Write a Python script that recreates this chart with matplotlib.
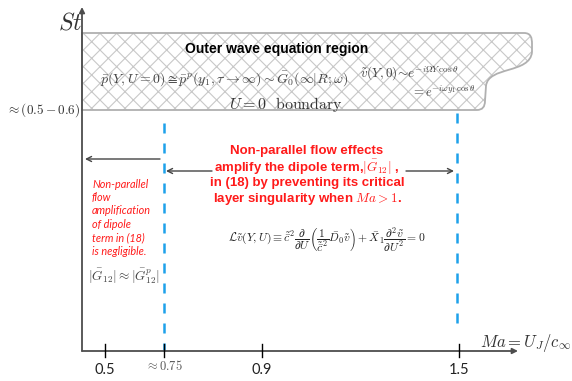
import numpy as np
import matplotlib
matplotlib.use("Agg")
import matplotlib.pyplot as plt
from matplotlib.path import Path
from matplotlib.patches import PathPatch, FancyArrowPatch

plt.rcParams['mathtext.fontset'] = 'cm'
plt.rcParams['hatch.linewidth'] = 0.8

# ---- data ----
ma_ticks = [0.5, 0.75, 0.9, 1.5]
ma_tick_labels = ["0.5", r"$\approx 0.75$", "0.9", "1.5"]
ma_critical = [0.75, 1.5]
st_boundary_label = r"$\approx(0.5-0.6)$"

# ---- layout (pixel coordinates) ----
W, H = 572, 381
tick_px = [105, 164, 262, 459]
x0, y_axis_bottom = 82, 351
def ma_px(m):
    return np.interp(m, ma_ticks, tick_px)

fig = plt.figure(figsize=(W/100, H/100), dpi=100)
ax = fig.add_axes([0, 0, 1, 1])
ax.set_xlim(0, W)
ax.set_ylim(H, 0)
ax.axis('off')

axis_col = '#4d4d4d'
blue = '#1da1ea'
red = '#ff1a1a'

# ---- hatched outer region ----
verts = [(x0, 110), (x0, 33), (524, 33),
         (531, 33), (532, 38), (532, 44),
         (532, 52),
         (530, 74), (488, 66), (486, 86),
         (485, 101),
         (485, 110), (477, 110),
         (x0, 110), (x0, 110)]
codes = [Path.MOVETO, Path.LINETO, Path.LINETO,
         Path.CURVE4, Path.CURVE4, Path.CURVE4,
         Path.LINETO,
         Path.CURVE4, Path.CURVE4, Path.CURVE4,
         Path.LINETO,
         Path.CURVE3, Path.CURVE3,
         Path.LINETO, Path.CLOSEPOLY]
path = Path(verts, codes)
ax.add_patch(PathPatch(path, facecolor='white', edgecolor='#c8c8c8', lw=0, hatch='xx', zorder=1))
ax.add_patch(PathPatch(path, facecolor='none', edgecolor='#b0b0b0', lw=1.3, zorder=2))

# ---- axes lines ----
ax.add_patch(FancyArrowPatch((x0, y_axis_bottom), (x0, 7), arrowstyle='-|>', mutation_scale=8,
                             color=axis_col, lw=1.3, shrinkA=0, shrinkB=0, zorder=3))
ax.add_patch(FancyArrowPatch((x0, y_axis_bottom), (518, y_axis_bottom), arrowstyle='-|>', mutation_scale=8,
                             color=axis_col, lw=1.3, shrinkA=0, shrinkB=0, zorder=3))

# ticks
for m, lab in zip(ma_ticks, ma_tick_labels):
    px = ma_px(m)
    ax.plot([px, px], [344, 357], color='black', lw=1.0, zorder=3)
    if lab.startswith('$'):
        ax.text(px, 366, lab, ha='center', va='center', fontsize=9, color='#555555')
    else:
        ax.text(px, 370, lab, ha='center', va='center', fontsize=10.5, fontfamily='Lato', color='#222222')

# critical lines
ax.plot([ma_px(ma_critical[0])]*2, [123, y_axis_bottom], color=blue, lw=1.8, dashes=(4, 4), zorder=2)
ax.plot([ma_px(ma_critical[1])-2]*2, [113, 332], color=blue, lw=1.8, dashes=(4, 4), zorder=2)

# axis labels
ax.text(70, 22, r"$St$", ha='center', va='center', fontsize=17, color='#333333')
ax.text(480, 343, r"$Ma = U_J/c_\infty$", ha='left', va='center', fontsize=12, color='#333333')
ax.text(80, 110, st_boundary_label, ha='right', va='center', fontsize=9.5, color='#333333')

# texts in hatched region
ax.text(277, 49, "Outer wave equation region", ha='center', va='center', fontsize=10,
        fontweight='bold', fontfamily='Liberation Sans', color='black', zorder=4)
ax.text(100, 79, r"$\bar{p}(Y,U=0)\cong\bar{p}^{p}(y_1,\tau\rightarrow\infty)\sim\bar{G}_0(\infty|R;\omega)$",
        ha='left', va='center', fontsize=10, color='#444444', zorder=4)
ax.text(360, 74, r"$\tilde{v}(Y,0)\!\sim\! e^{-i\Omega Y\,\cos\theta}$", ha='left', va='center',
        fontsize=9.5, color='#444444', zorder=4)
ax.text(411, 92, r"$=e^{-i\omega y_1\,\cos\theta}$", ha='left', va='center',
        fontsize=9, color='#444444', zorder=4)
ax.text(286, 105, r"$U=0\ \ \mathrm{boundary}$", ha='center', va='center', fontsize=11.5,
        color='#333333', zorder=4)

# arrows
arrow_kw = dict(arrowstyle='->', mutation_scale=9, color='#444444', lw=1.0, shrinkA=0, shrinkB=0)
ax.add_patch(FancyArrowPatch((160, 159), (85, 159), **arrow_kw))
ax.add_patch(FancyArrowPatch((212, 171), (166, 171), **arrow_kw))
ax.add_patch(FancyArrowPatch((406, 171), (454, 171), **arrow_kw))

# red central text
red_lines = ["Non-parallel flow effects",
             r"amplify the dipole term,$|\bar{G}_{12}|$ ,",
             "in (18) by preventing its critical",
             r"layer singularity when $Ma>1$."]
for i, t in enumerate(red_lines):
    ax.text(307, 151 + i*16, t, ha='center', va='center', fontsize=9.5, fontweight='bold',
            fontfamily='Liberation Sans', color=red)

# red italic side text
side_lines = ["Non-parallel", "flow", "amplification", "of dipole", "term in (18)", "is negligible."]
for i, t in enumerate(side_lines):
    ax.text(92, 184 + i*13.5, t, ha='left', va='center', fontsize=7.8, fontstyle='italic',
            fontfamily='Lato', color=red)

ax.text(124, 276, r"$|\bar{G}_{12}|\approx|\bar{G}^{p}_{12}|$", ha='center', va='center',
        fontsize=9.5, color='#444444')

# governing equation
ax.text(327, 240,
        r"$\mathcal{L}\tilde{v}(Y,U)\equiv\tilde{\bar{c}}^2\dfrac{\partial}{\partial U}\left(\dfrac{1}{\tilde{\bar{c}}^2}\bar{D}_0\tilde{v}\right)+\bar{X}_1\dfrac{\partial^2\tilde{v}}{\partial U^2}=0$",
        ha='center', va='center', fontsize=8.4, color='#222222')

fig.savefig("out.png", dpi=100)
